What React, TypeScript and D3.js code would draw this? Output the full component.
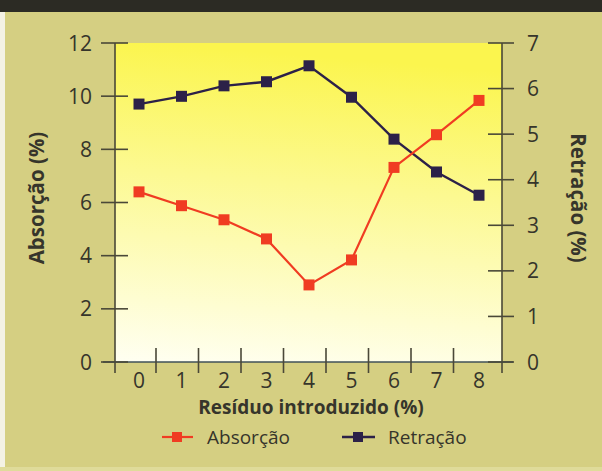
import React from "react";
import * as d3 from "d3";

const residuo = [0, 1, 2, 3, 4, 5, 6, 7, 8];
const absorcao = [6.4, 5.88, 5.35, 4.63, 2.9, 3.84, 7.32, 8.55, 9.84];
const retracao = [5.66, 5.83, 6.06, 6.15, 6.5, 5.81, 4.89, 4.17, 3.66];
const leftTicks = [0, 2, 4, 6, 8, 10, 12];
const rightTicks = [0, 1, 2, 3, 4, 5, 6, 7];
const xTitle = "Resíduo introduzido (%)";
const leftTitle = "Absorção (%)";
const rightTitle = "Retração (%)";
const seriesNames = ["Absorção", "Retração"];

const W = 602;
const H = 471;
const FONT = "'Open Sans', 'Noto Sans', sans-serif";
const TXT = "#36352b";
const AX = "#4a4838";
const RED = "#f03c22";
const PURPLE = "#2c2148";

export default function App() {
  const plotL = 115, plotR = 502, plotT = 43, plotB = 362;
  const x = d3.scaleLinear().domain([0, 8]).range([139, 479]);
  const yL = d3.scaleLinear().domain([0, 12]).range([plotB, plotT]);
  const yR = d3.scaleLinear().domain([0, 7]).range([plotB, plotT]);

  const lineA = d3.line<number>().x((_, i) => x(residuo[i])).y((d) => yL(d));
  const lineR = d3.line<number>().x((_, i) => x(residuo[i])).y((d) => yR(d));

  const sq = 11;

  return (
    <svg width={W} height={H} style={{ position: "absolute", left: 0, top: 0 }} fontFamily={FONT}>
      <defs>
        <linearGradient id="plotGrad" x1="0.1" y1="0" x2="0" y2="1">
          <stop offset="0%" stopColor="#fbf54e" />
          <stop offset="40%" stopColor="#fcf991" />
          <stop offset="100%" stopColor="#fffff2" />
        </linearGradient>
      </defs>
      <rect x={0} y={0} width={W} height={H} fill="#d5cf82" />
      <rect x={0} y={0} width={5} height={H} fill="#f4f2e4" />
      <rect x={0} y={0} width={W} height={12} fill="#2c2b24" />
      <rect x={0} y={467} width={W} height={4} fill="#dfdb9a" />
      <rect x={plotL} y={plotT} width={plotR - plotL} height={plotB - plotT} fill="url(#plotGrad)" />

      {/* axes */}
      <g stroke={AX} strokeWidth={1.6} fill="none">
        <line x1={plotL} x2={plotL} y1={plotT} y2={373} />
        <line x1={plotR} x2={plotR} y1={plotT} y2={373} />
        <line x1={103} x2={513} y1={plotB} y2={plotB} stroke="#3f5058" />
        {leftTicks.map((t) => (
          <line key={"lt" + t} x1={101} x2={128} y1={yL(t)} y2={yL(t)} />
        ))}
        {rightTicks.map((t) => (
          <line key={"rt" + t} x1={488} x2={514} y1={yR(t)} y2={yR(t)} />
        ))}
        {residuo.slice(0, 8).map((r) => (
          <line key={"xt" + r} x1={x(r + 0.4)} x2={x(r + 0.4)} y1={348} y2={373} />
        ))}
      </g>

      {/* tick labels */}
      <g fill={TXT} fontSize={21}>
        {leftTicks.map((t) => (
          <text key={"ll" + t} x={92} y={yL(t)} dy="0.36em" textAnchor="end">{t}</text>
        ))}
        {rightTicks.map((t) => (
          <text key={"rl" + t} x={527} y={yR(t)} dy="0.36em" textAnchor="start">{t}</text>
        ))}
        {residuo.map((r) => (
          <text key={"xl" + r} x={x(r)} y={388} textAnchor="middle">{r}</text>
        ))}
      </g>

      {/* titles */}
      <text x={311} y={414} textAnchor="middle" fontSize={19} fontWeight="bold" fill={TXT}>{xTitle}</text>
      <text transform={`translate(44,198) rotate(-90)`} textAnchor="middle" fontSize={20.5} fontWeight="bold" fill={TXT}>{leftTitle}</text>
      <text transform={`translate(571,198) rotate(90)`} textAnchor="middle" fontSize={20.5} fontWeight="bold" fill={TXT}>{rightTitle}</text>

      {/* series */}
      <path d={lineR(retracao) || ""} fill="none" stroke={PURPLE} strokeWidth={2.4} />
      <path d={lineA(absorcao) || ""} fill="none" stroke={RED} strokeWidth={2.2} />
      {retracao.map((v, i) => (
        <rect key={"rp" + i} x={x(residuo[i]) - sq / 2} y={yR(v) - sq / 2} width={sq} height={sq} fill={PURPLE} />
      ))}
      {absorcao.map((v, i) => (
        <rect key={"ap" + i} x={x(residuo[i]) - sq / 2} y={yL(v) - sq / 2} width={sq} height={sq} fill={RED} />
      ))}

      {/* legend */}
      <g>
        <line x1={162} x2={193} y1={437} y2={437} stroke={RED} strokeWidth={2.2} />
        <rect x={172} y={432} width={10} height={10} fill={RED} />
        <text x={207} y={444} fontSize={19} fill={TXT}>{seriesNames[0]}</text>
        <line x1={342} x2={375} y1={437} y2={437} stroke={PURPLE} strokeWidth={2.4} />
        <rect x={353} y={432} width={10} height={10} fill={PURPLE} />
        <text x={388} y={444} fontSize={19} fill={TXT}>{seriesNames[1]}</text>
      </g>
    </svg>
  );
}
